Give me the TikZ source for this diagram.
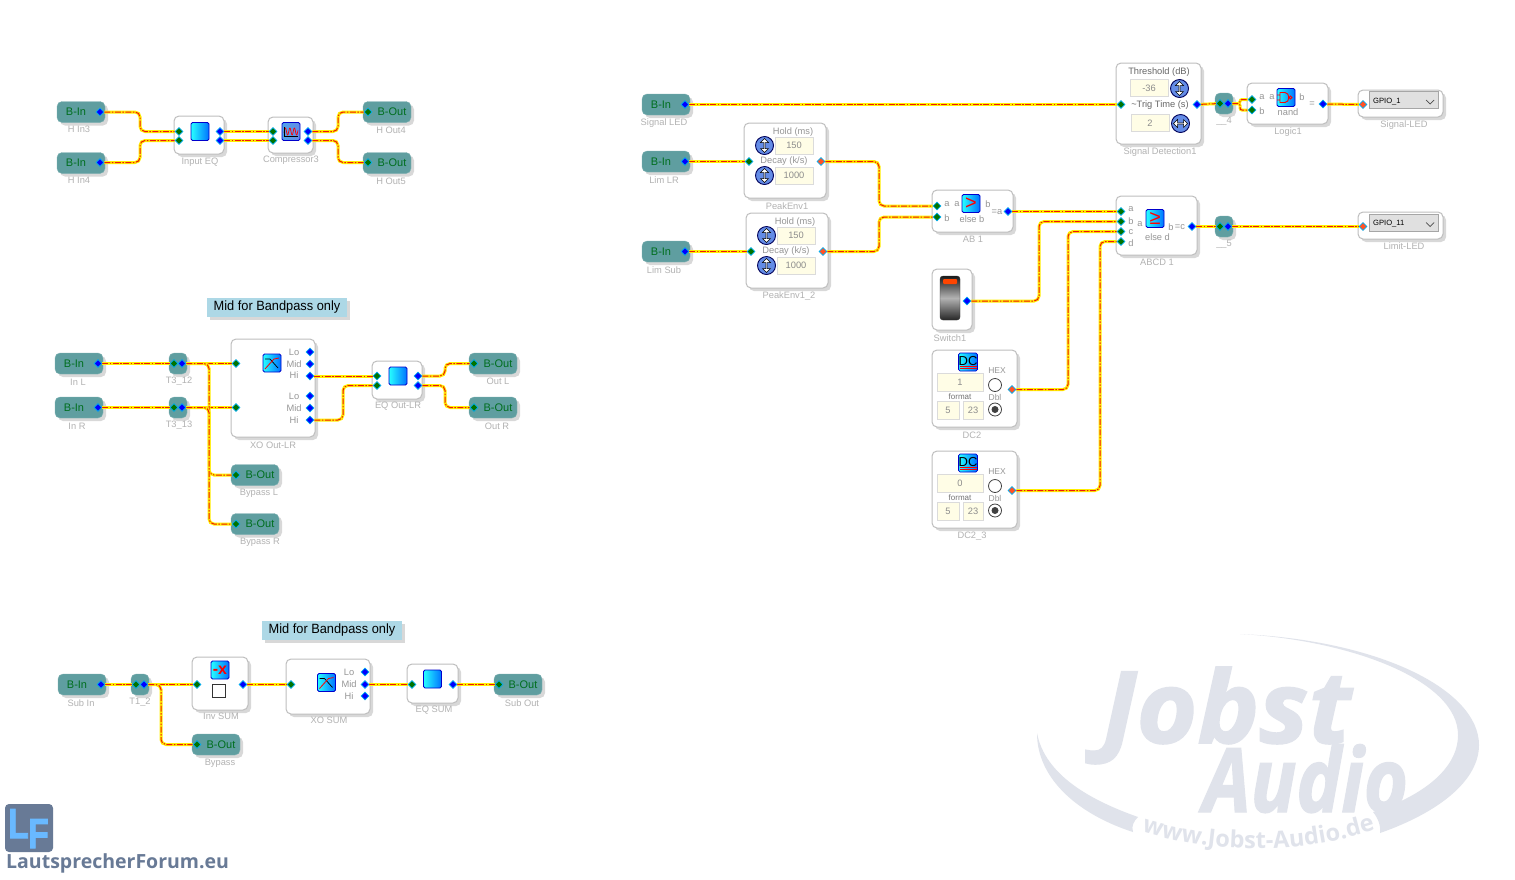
\documentclass[tikz,border=0pt]{standalone}
\usepackage{fontspec}
\setmainfont{Liberation Sans}
\newfontfamily\brandfont{Open Sans}
\newfontfamily\wmfont{Open Sans}[BoldItalicFeatures={FakeBold=1.6}]
\newfontfamily\logofont{Liberation Sans}[BoldFeatures={FakeBold=2.5}]
\usetikzlibrary{shapes.geometric,shapes.arrows,shadows,positioning,calc,decorations.text}
\definecolor{tealbox}{RGB}{95,158,160}
\definecolor{tealtxt}{RGB}{0,110,30}
\definecolor{capgray}{RGB}{178,178,178}
\definecolor{labgray}{RGB}{150,150,150}
\definecolor{edgegray}{RGB}{190,190,190}
\definecolor{shadegray}{RGB}{216,216,216}
\definecolor{cream}{RGB}{255,253,230}
\definecolor{notefill}{RGB}{173,216,230}
\definecolor{wireyel}{RGB}{255,238,0}
\definecolor{wirered}{RGB}{240,20,10}
\definecolor{wmark}{RGB}{224,227,235}
\definecolor{logoslate}{RGB}{104,122,150}
\definecolor{logoblue}{RGB}{105,185,255}
\definecolor{knobblue}{RGB}{100,140,230}
\definecolor{lampred}{RGB}{255,69,0}
\pgfdeclarelayer{ports}
\pgfsetlayers{main,ports}
\begin{document}
\begin{tikzpicture}[
  x=1pt, y=-1pt,
  every node/.style={font=\fontsize{9.3}{11}\selectfont, inner sep=0pt},
  softshadow/.style={drop shadow={shadow xshift=3pt, shadow yshift=-3pt,
                     fill=shadegray, opacity=1}},
  modbox/.style={draw=edgegray, line width=1pt, fill=white,
                 rounded corners=5pt, softshadow},
  busbox/.style={fill=tealbox, draw=tealbox!80!white, rounded corners=5pt,
              minimum width=48pt, minimum height=21pt, softshadow,
              text=tealtxt, font=\fontsize{11}{13}\selectfont},
  bin/.style={busbox, execute at end node=\hspace{10pt}},
  bout/.style={busbox, execute at begin node=\hspace{10pt}},
  tee/.style={fill=tealbox, draw=tealbox!80!white, rounded corners=5pt,
              minimum width=18pt, minimum height=21pt, softshadow},
  inport/.style={diamond, fill=green!45!black, draw=cyan, line width=.6pt,
                 minimum size=8pt},
  outport/.style={inport, fill=blue},
  redport/.style={inport, fill=red!60!orange!85!white},
  capt/.style={text=capgray},
  inlab/.style={text=labgray},
  darklab/.style={text=black!60},
  note/.style={fill=notefill, minimum width=140pt, minimum height=19pt,
               softshadow, font=\fontsize{13.4}{15}\selectfont},
  iconbox/.style={draw=blue!80!black, line width=.8pt, rounded corners=1.5pt,
                  left color=cyan!85!white, right color=blue!55!cyan,
                  minimum size=18pt},
  field/.style={draw=black!14, fill=cream, text=black!45, minimum height=17pt},
  knob/.style={circle, draw=blue!35!black, line width=.9pt,
               fill=knobblue, minimum size=18pt},
  knobarrow/.style={double arrow, draw=black, fill=white, line width=.5pt,
                    minimum height=14pt, minimum width=8pt,
                    double arrow head extend=1.5pt},
  radio/.style={circle, draw=black!75, line width=.8pt, fill=white, minimum size=13pt},
  radiodot/.style={circle, fill=black!75, minimum size=7pt},
  combo/.style={draw=black!35, fill=black!12, minimum width=69pt, minimum height=17pt},
  wire/.style={rounded corners=5pt, draw=wirered, line width=1pt,
               dash pattern=on 6pt off 1.5pt on 1.5pt off 1.5pt,
               preaction={draw=wireyel, solid, line width=3pt}}
]
\useasboundingbox[fill=white] (0,0) rectangle (1515,879);

% watermark
\fill[wmark] (1037,733) .. controls (1037,780) and (1080,815) .. (1133,832)
  .. controls (1131,826) and (1134,821) .. (1138,817)
  .. controls (1090,800) and (1045,775) .. (1037,733) -- cycle;
\fill[wmark] (1380,833) .. controls (1440,812) and (1479,780) .. (1479,745)
  .. controls (1479,690) and (1380,640) .. (1240,634)
  .. controls (1350,640) and (1458,680) .. (1458,735)
  .. controls (1458,770) and (1420,797) .. (1373,812)
  .. controls (1378,818) and (1381,826) .. (1380,833) -- cycle;
\node[anchor=base west, text=wmark, font=\wmfont\bfseries\itshape\fontsize{100}{105}\selectfont]
  (jobst) at (1102,743) {\scalebox{1.04}[1]{Jobst}};
\node[anchor=base west, text=wmark, font=\wmfont\bfseries\itshape\fontsize{89}{94}\selectfont]
  (audio) at (1203,812) {\scalebox{.85}[1]{Audio}};
\path[decorate, decoration={text along path, text align=center,
  text={|\brandfont\bfseries\fontsize{23.5}{25}\selectfont\color{wmark}|www.Jobst-Audio.de}}]
  (1136,830) .. controls (1215,855) and (1300,855) .. (1381,828);

% logo
\node[fill=logoslate, rounded corners=4pt, minimum size=48pt] (logo) at (29,828) {};
\node[anchor=base west, text=logoblue, font=\logofont\bfseries\fontsize{42}{44}\selectfont]
  (logol) at (8,838) {\scalebox{.8}[1]{L}};
\node[anchor=base west, text=logoblue, font=\logofont\bfseries\fontsize{42}{44}\selectfont]
  (logof) at (28,848) {\scalebox{.8}[1]{F}};
\node[anchor=base west, text=logoslate, font=\brandfont\bfseries\fontsize{19.5}{22}\selectfont]
  (forum) at (6,868) {LautsprecherForum.eu};

% notes
\node[note] (note1) at (277,307) {\raisebox{-1pt}{\scalebox{.955}[1]{Mid for Bandpass only}}};
\node[note] (note2) at (332,630) {\raisebox{-1pt}{\scalebox{.955}[1]{Mid for Bandpass only}}};

% top left group
\node[bin] (hin3) at (81,112) {B-In};
\node[bin] (hin4) at (81,163) {B-In};
\node[modbox, minimum width=50pt, minimum height=38pt] (ineq) at (199,135) {};
\node[iconbox] (ineqic) at (200,131.5) {};
\node[modbox, minimum width=45pt, minimum height=36pt] (comp3) at (290.5,135) {};
\node[iconbox, left color=knobblue!80!cyan, right color=knobblue] (compic) at (291,131.5) {};
\node[bout] (hout4) at (387,112) {B-Out};
\node[bout] (hout5) at (387,163) {B-Out};

% bandpass group
\node[bin] (inl) at (79,363.5) {B-In};
\node[bin] (inr) at (79,407.5) {B-In};
\node[tee] (t312) at (178,363.5) {};
\node[tee] (t313) at (178,407.5) {};
\node[modbox, minimum width=84pt, minimum height=98pt] (xolr) at (273,388) {};
\node[iconbox] (xolric) at (272,363) {};
\node[modbox, minimum width=50pt, minimum height=38pt] (eqlr) at (397,380) {};
\node[iconbox] (eqlric) at (398,376) {};
\node[bout] (outl) at (493,363.5) {B-Out};
\node[bout] (outr) at (493,407.5) {B-Out};
\node[bout] (bypl) at (255,475) {B-Out};
\node[bout] (bypr) at (255,524) {B-Out};

% sum group
\node[bin] (subin) at (82,684.5) {B-In};
\node[tee] (t12) at (140,684.5) {};
\node[modbox, minimum width=56pt, minimum height=53pt] (invsum) at (220,683.5) {};
\node[iconbox, font=\bfseries\fontsize{16}{16}\selectfont, text=red] (invic) at (220,670) {-x};
\node[draw=black!80, fill=white, line width=.8pt, minimum size=13pt] (invchk) at (218.5,690.5) {};
\node[modbox, minimum width=84pt, minimum height=55pt] (xosum) at (328,686.5) {};
\node[iconbox] (xosumic) at (326.5,682.5) {};
\node[modbox, minimum width=51pt, minimum height=39pt] (eqsum) at (432.5,683.5) {};
\node[iconbox] (eqsumic) at (432.5,679) {};
\node[bout] (subout) at (518,684.5) {B-Out};
\node[bout] (bypass) at (216,744.5) {B-Out};

% detection group
\node[bin] (sigled) at (666,104.5) {B-In};
\node[bin] (limlr) at (666,161.5) {B-In};
\node[bin] (limsub) at (666,251.5) {B-In};
\node[modbox, minimum width=82pt, minimum height=75pt] (env1) at (785,160.5) {};
\node[modbox, minimum width=82pt, minimum height=75pt] (env2) at (787,250.5) {};
\node[modbox, minimum width=81pt, minimum height=42pt] (ab1) at (972.5,211) {};
\node[iconbox, font=\fontsize{20}{20}\selectfont, text=red] (abic) at (971,203.5) {>};
\node[modbox, minimum width=85pt, minimum height=81pt] (sigdet) at (1158.5,103.5) {};
\node[modbox, minimum width=81pt, minimum height=59pt] (abcd1) at (1156.5,225.5) {};
\node[iconbox, font=\fontsize{20}{20}\selectfont, text=red] (abcdic) at (1155,218.5) {≥};
\node[tee] (t4) at (1224,103.5) {};
\node[tee] (t5) at (1224,226.5) {};
\node[modbox, minimum width=81pt, minimum height=41pt] (logic1) at (1287.5,103.5) {};
\node[iconbox] (logicic) at (1286,97.5) {};
\node[modbox, minimum width=85pt, minimum height=27pt] (gpio1) at (1400.5,103.5) {};
\node[combo] (cb1) at (1403.5,100) {};
\node[modbox, minimum width=85pt, minimum height=27pt] (gpio11) at (1400.5,225.5) {};
\node[combo] (cb11) at (1403.5,222.5) {};
\node[anchor=west, font=\fontsize{7.6}{9}\selectfont] (cb1txt) at (1373,101.5) {GPIO\_1};
\node[anchor=west, font=\fontsize{7.6}{9}\selectfont] (cb11txt) at (1373,223.5) {GPIO\_11};
\draw[black!70, line width=.7pt] (1426,100) -- (1430,104) -- (1434,100);
\draw[black!70, line width=.7pt] (1426,222.5) -- (1430,226.5) -- (1434,222.5);

% switch
\node[modbox, minimum width=40pt, minimum height=61pt] (sw1) at (952,299.5) {};
\node[draw=black!80, rounded corners=3pt, minimum width=20pt, minimum height=44pt,
      top color=black!90, bottom color=black!85, middle color=black!30] (swbody) at (950,298) {};
\node[fill=lampred, rounded corners=1pt, minimum width=14pt, minimum height=5pt]
  (swlamp) at (950,281.5) {};

% dc blocks
\node[modbox, minimum width=85pt, minimum height=77pt] (dc2) at (974.5,388.5) {};
\node[modbox, minimum width=85pt, minimum height=77pt] (dc3) at (974.5,489.5) {};
\foreach \dy/\dctag/\val in {0/a/1,101/b/0} {
  \node[iconbox, text=black, font=\fontsize{13}{13}\selectfont] (dcic\dctag) at (968,362+\dy)
    {\raisebox{1.5pt}{DC}};
  \draw[red, line width=.7pt] (959.5,366+\dy) -- (976.5,366+\dy)
    (959.5,368.5+\dy) -- (976.5,368.5+\dy);
  \node[field, minimum width=46pt, minimum height=18pt] (dcval\dctag) at (960,382+\dy) {\val};
  \node[field, minimum width=22pt, minimum height=18pt] (dcfa\dctag) at (948,410+\dy) {5};
  \node[field, minimum width=20pt, minimum height=18pt] (dcfb\dctag) at (973,410+\dy) {23};
  \node[radio] (dchex\dctag) at (995,385+\dy) {};
  \node[radio] (dcdbl\dctag) at (995,409.5+\dy) {};
  \node[radiodot] (dcdot\dctag) at (dcdbl\dctag) {};
  \node[inlab, font=\fontsize{8.5}{10}\selectfont] (dcl\dctag) at (997,371+\dy) {HEX};
  \node[inlab, font=\fontsize{8.5}{10}\selectfont] (dcm\dctag) at (995,397+\dy) {Dbl};
  \node[inlab, text=black!55, font=\fontsize{8}{10}\selectfont] (dcn\dctag) at (960,396.5+\dy) {format};
}

% envelope and threshold fields
\foreach \nm/\fx/\fy/\val in {fa/794/145.5/150,fb/794/175.5/1000,
    fc/796/235.5/150,fd/796/265.5/1000,fe/1149/88/-36,ff/1150/123/2}
  \node[field, minimum width=38pt] (\nm) at (\fx,\fy) {\val};
\foreach \nm/\kx/\ky/\ang in {ka/764.5/145.5/90,kb/764.5/175.5/90,kc/766.5/235.5/90,
    kd/766.5/265.5/90,ke/1179.5/88.5/90,kf/1180.5/123.5/0} {
  \node[knob] (\nm) at (\kx,\ky) {};
  \node[knobarrow, rotate=\ang] (\nm a) at (\nm) {};
}

% labels inside the blocks
\foreach \px/\py/\txt [count=\i] in {294/352/Lo,294/364/Mid,294/375.5/Hi,294/396/Lo,294/408/Mid,
    294/420/Hi,349/672/Lo,349/684/Mid,349/696/Hi,793/132/{Hold (ms)},784/161.5/{Decay (k/s)},
    795/222/{Hold (ms)},786/251.5/{Decay (k/s)},947/204/a,947/218/b,957/204/a,988/204/b,
    997/212/=a,972/219/else b,1131/209/a,1131/221.5/b,1131/232/c,1131/243/d,1140/224/a,
    1171/227/b,1180/227/=c,1157.5/237/else d,1262/97/a,1262/111/b,1272/97/a,1302/97/b,
    1312/104/=,1288/112/nand}
  \node[inlab] (lab\i) at (\px,\py) {\txt};
\node[darklab] (thrlab) at (1159,72.5) {Threshold (dB)};
\node[darklab] (triglab) at (1160,105.5) {\textasciitilde Trig Time (s)};

% captions
\foreach \nm/\px/\py/\txt in {chi3/79/129/H In3,chi4/79/180/H In4,cineq/200/162/Input EQ,
    ccomp/291/160/Compressor3,cho4/391/130/H Out4,cho5/391/181/H Out5,cinl/78/382/In L,
    cinr/77/426/In R,ct312/179/381/T3\_12,ct313/179/425/T3\_13,cxolr/273/445/XO Out-LR,
    ceqlr/398/406/EQ Out-LR,coutl/498/381.5/Out L,coutr/497/426/Out R,cbypl/259/493/Bypass L,
    cbypr/260/542/Bypass R,csubin/81/703/Sub In,ct12/140/702/T1\_2,cinv/221/716.5/Inv SUM,
    cxos/329/720/XO SUM,ceqs/434/710/EQ SUM,csubo/522/703/Sub Out,cbyp/220/763/Bypass,
    csig/664/123/Signal LED,climl/664/180/Lim LR,clims/664/270/Lim Sub,cenv1/787/206/PeakEnv1,
    cenv2/789/296/PeakEnv1\_2,cab/973/239/AB 1,csw/950/338/Switch1,cdc2/972/435/DC2,
    cdc3/972/536/DC2\_3,csd/1160/152/Signal Detection1,cabcd/1157/262/ABCD 1,
    ct4/1224/121/\_\_4,ct5/1224/244/\_\_5,clog/1288/132/Logic1,cled/1404/125/Signal-LED,
    clim/1404/246.5/Limit-LED}
  \node[capt] (\nm) at (\px,\py) {\txt};

% glyphs inside the icons
\foreach \ic in {xolric,xosumic} {
  \draw[black, line width=.7pt] ([shift={(-7,-4)}]\ic.center) -- ([shift={(-2,-4)}]\ic.center)
    -- ([shift={(6,5)}]\ic.center);
  \draw[red, line width=.8pt] ([shift={(-7,6)}]\ic.center) -- ([shift={(2,-4)}]\ic.center)
    -- ([shift={(7,-5)}]\ic.center);
}
\draw[red, line width=.7pt, shift={(compic.center)}]
  plot[domain=-7:7, samples=60] (\x,{3.5*sin(\x*80)});
\draw[black, line width=.5pt, shift={(compic.center)}] (-7,-5) -- (-7,5) -- (7,5);
\draw[red, line width=.9pt, shift={(logicic.center)}]
  (-6,-5) -- (-1,-5) .. controls (4,-5) and (4,5) .. (-1,5) -- (-6,5) -- cycle
  (3,0) ++(1.5,0) circle[radius=1.5pt] (-9,-2.5) -- (-6,-2.5) (-9,2.5) -- (-6,2.5);

\begin{pgfonlayer}{ports}
\foreach \nm/\px/\py in {ineqa/179/131.5,ineqb/179/140.5,compa/273/131.5,compb/273/140.5,
    ho4i/368/112,ho5i/368/162.5,t312i/174/363.5,t313i/174/407.5,xoi1/236/363.5,xoi2/236/407.5,
    eqlra/377/376,eqlrb/377/385.5,outli/474/363.5,outri/474/407.5,byli/236/475,byri/236/524,
    t12i/136/684.5,invi/197/684.5,xosi/291/684.5,eqsi/412/684.5,subi/499/684.5,bypi/197/744.5,
    env1i/749/161.5,env2i/751/251.5,aba/937/206,abb/937/217,sdi/1121/104.5,abcda/1121/211.5,
    abcdb/1121/221.5,abcdc/1121/231.5,abcdd/1121/241.5,t4i/1220/103.5,t5i/1220/226.5,
    loga/1252/99.5,logb/1252/110}
  \node[inport] (\nm) at (\px,\py) {};
\foreach \nm/\px/\py in {hi3o/100/112,hi4o/100/162.5,ineqc/220/131.5,ineqd/220/140.5,
    compc/308/131.5,compd/308/140.5,inlo/98/363.5,inro/98/407.5,t312o/182/363.5,t313o/182/407.5,
    xoa/310/352,xob/310/364,xoc/310/376,xod/310/396,xoe/310/408,xof/310/420,eqlrc/418/376,
    eqlrd/418/385.5,subo/101/684.5,t12o/144/684.5,invo/243/684.5,xosa/365/672,xosb/365/684.5,
    xosc/365/696,eqso/453/684.5,sigo/685/104.5,limlo/685/161.5,limso/685/251.5,abo/1008/211.5,
    swo/967/301,sdo/1197/104.5,abcdo/1192/226.5,t4o/1228/103.5,t5o/1228/226.5,logout/1323/104}
  \node[outport] (\nm) at (\px,\py) {};
\foreach \nm/\px/\py in {env1o/821/161.5,env2o/823/251.5,dc2o/1012/389.5,dc3o/1012/490.5,
    led1/1363/104.5,led2/1363/226.5}
  \node[redport] (\nm) at (\px,\py) {};
\end{pgfonlayer}

% connectors
\draw[wire] (hi3o) -- ++(40,0) |- (ineqa);
\draw[wire] (hi4o) -- ++(40,0) |- (ineqb);
\draw[wire] (ineqc) -- (compa);
\draw[wire] (ineqd) -- (compb);
\draw[wire] (compc) -- ++(30,0) |- (ho4i);
\draw[wire] (compd) -- ++(30,0) |- (ho5i);
\draw[wire] (inlo) -- (t312i);
\draw[wire] (inro) -- (t313i);
\draw[wire] (t312o) -- (xoi1);
\draw[wire] (t313o) -- (xoi2);
\draw[wire] (t312o) -- ++(27,0) |- (byli);
\draw[wire] (t313o) -- ++(27,0) |- (byri);
\draw[wire] (xoc) -- (eqlra);
\draw[wire] (xof) -- ++(33,0) |- (eqlrb);
\draw[wire] (eqlrc) -- ++(27,0) |- (outli);
\draw[wire] (eqlrd) -- ++(27,0) |- (outri);
\draw[wire] (subo) -- (t12i);
\draw[wire] (t12o) -- (invi);
\draw[wire] (t12o) -- ++(17,0) |- (bypi);
\draw[wire] (invo) -- (xosi);
\draw[wire] (xosb) -- (eqsi);
\draw[wire] (eqso) -- (subi);
\draw[wire] (sigo) -- (sdi);
\draw[wire] (limlo) -- (env1i);
\draw[wire] (limso) -- (env2i);
\draw[wire] (env1o) -- ++(58,0) |- (aba);
\draw[wire] (env2o) -- ++(56,0) |- (abb);
\draw[wire] (abo) -- (abcda);
\draw[wire] (swo) -- ++(72,0) |- (abcdb);
\draw[wire] (dc2o) -- ++(56,0) |- (abcdc);
\draw[wire] (dc3o) -- ++(88,0) |- (abcdd);
\draw[wire] (sdo) -- (t4i);
\draw[wire, rounded corners=2pt] (t4o) -- ++(12,0) |- (loga);
\draw[wire, rounded corners=2pt] (t4o) -- ++(12,0) |- (logb);
\draw[wire] (logout) -- (led1);
\draw[wire] (abcdo) -- (t5i);
\draw[wire] (t5o) -- (led2);
\end{tikzpicture}
\end{document}
